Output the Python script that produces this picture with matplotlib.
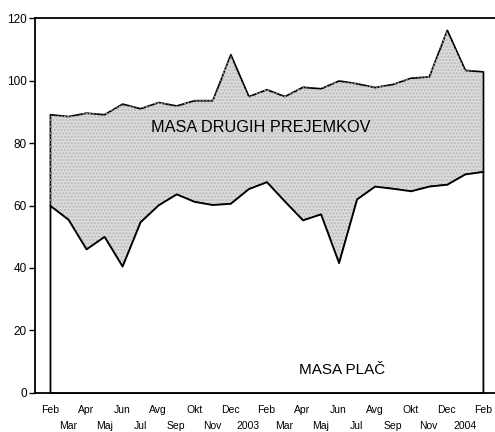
import matplotlib
matplotlib.use('Agg')
import matplotlib.pyplot as plt
import numpy as np

plt.rcParams['font.family'] = ['Liberation Sans', 'DejaVu Sans']

# months Feb 2002 .. Feb 2004
months = ['Feb', 'Mar', 'Apr', 'Maj', 'Jun', 'Jul', 'Avg', 'Sep', 'Okt', 'Nov',
          'Dec', '2003', 'Feb', 'Mar', 'Apr', 'Maj', 'Jun', 'Jul', 'Avg', 'Sep',
          'Okt', 'Nov', 'Dec', '2004', 'Feb']

masa_plac = [60.0, 55.6, 46.1, 50.1, 40.6, 54.8, 60.2, 63.7, 61.3, 60.3,
             60.7, 65.4, 67.6, 61.4, 55.4, 57.3, 41.7, 62.1, 66.2, 65.5,
             64.7, 66.2, 66.8, 70.1, 70.9]
masa_drugih = [29.2, 33.0, 43.6, 39.1, 52.0, 36.3, 32.9, 28.3, 32.4, 33.4,
               47.7, 29.6, 29.6, 33.6, 42.6, 40.2, 58.3, 37.0, 31.7, 33.4,
               36.2, 35.1, 49.4, 33.3, 32.0]

x = np.arange(len(months))

fig = plt.figure(figsize=(4.95, 4.32), dpi=100)
ax = fig.add_axes([0.0707, 0.0903, 0.9293, 0.868])

polys = ax.stackplot(x, masa_plac, masa_drugih, colors=['white', '#dcdcdc'],
                     edgecolor='black', linewidth=1.3, zorder=2)
# dotted texture of the upper band
top = np.array(masa_plac) + np.array(masa_drugih)
ax.fill_between(x, masa_plac, top, facecolor='none', edgecolor='#b8b8b8',
                hatch='.....', linewidth=0, zorder=1.5)
polys[1].set_zorder(1)

ax.set_xlim(-0.83, 24.67)
ax.set_ylim(0, 120)

ax.spines['right'].set_visible(False)
for s in ['left', 'top', 'bottom']:
    ax.spines[s].set_linewidth(1.3)

ax.set_yticks(range(0, 121, 20))
ax.tick_params(axis='y', direction='out', length=4, width=1, pad=2, labelsize=8.5)

ax.set_xticks(x[::2])
ax.set_xticklabels(months[::2])
ax.set_xticks(x[1::2], minor=True)
ax.set_xticklabels(months[1::2], minor=True)
ax.tick_params(axis='x', which='major', direction='in', length=2, width=0.8,
               pad=9, labelsize=7.5)
ax.tick_params(axis='x', which='minor', direction='in', length=2, width=0.8,
               pad=20, labelsize=7.5)

ax.text(11.7, 85.1, 'MASA DRUGIH PREJEMKOV', ha='center', va='center', fontsize=11.7, zorder=3)
ax.text(16.2, 7.4, 'MASA PLAČ', ha='center', va='center', fontsize=11, zorder=3)

fig.savefig('out.png', dpi=100)
